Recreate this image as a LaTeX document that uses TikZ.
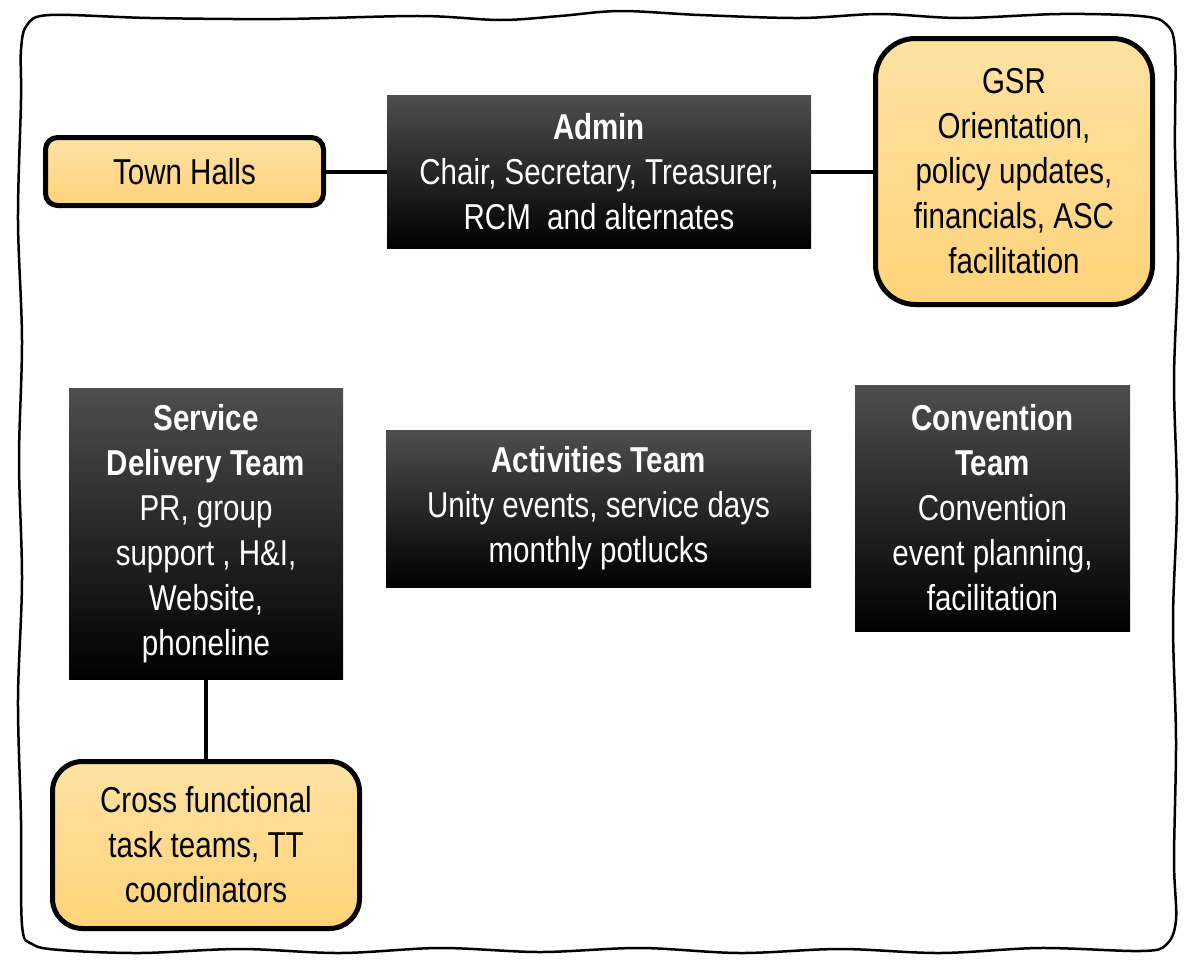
\documentclass[tikz,border=0pt]{standalone}
\usepackage{fontspec}
\setmainfont{Liberation Sans}[FakeStretch=0.82]
\definecolor{paletop}{RGB}{254,226,162}
\definecolor{palebot}{RGB}{255,211,122}
\definecolor{darktop}{RGB}{78,78,78}

\begin{document}
\begin{tikzpicture}[x=1pt,y=-1pt,
    txt/.style={font=\fontsize{36}{45}\selectfont, align=center, inner sep=0pt},
    orangebox/.style={txt, draw=black, line width=5pt, rounded corners=#1,
      top color=paletop, bottom color=palebot},
    blackbox/.style={txt, text=white, top color=darktop, middle color=black,
      bottom color=black},
    link/.style={line width=4pt}]
  \useasboundingbox (0,0) rectangle (1192,959);
  % hand drawn frame
  \draw[line width=2.5pt, line join=round] plot[smooth cycle, tension=0.55] coordinates {
    (50,15) (150,18) (280,19) (420,16) (500,20) (560,16) (620,11) (700,15)
    (800,18) (880,14) (960,18) (1060,14) (1140,16)
    (1166,24) (1175,50)
    (1175,150) (1178,260) (1174,380) (1177,500) (1173,620) (1176,740)
    (1174,860) (1176,920)
    (1166,945) (1140,951)
    (1040,948) (940,953) (840,949) (740,953) (640,948) (540,952) (440,948)
    (340,953) (240,949) (140,953) (60,950)
    (32,944) (22,925)
    (21,820) (18,700) (22,580) (19,460) (22,340) (18,220) (21,100) (21,50)
    (27,25)};

  % top row
  \node[orangebox=12pt, minimum width=278pt, minimum height=68pt]
    (townhalls) at (184.5,171.5) {Town Halls};
  \node[blackbox, minimum width=424pt, minimum height=153pt]
    (admin) at (599,171.5)
    {\textbf{Admin}\\Chair, Secretary, Treasurer,\\RCM\ \ and alternates};
  \node[orangebox=40pt, minimum width=277pt, minimum height=266pt]
    (gsr) at (1014,171.5)
    {GSR\\Orientation,\\policy updates,\\financials, ASC\\facilitation};

  % teams
  \node[blackbox, minimum width=274pt, minimum height=291pt]
    (service) at (206,533.5)
    {\textbf{Service}\\\textbf{Delivery Team}\\PR, group\\support , H\&I,\\Website,\\phoneline};
  \node[blackbox, minimum width=425pt, minimum height=157pt]
    (activities) at (598.5,508.5)
    {\textbf{Activities Team}\\Unity events, service days\\monthly potlucks};
  \node[blackbox, minimum width=275pt, minimum height=246pt]
    (convention) at (992.5,508)
    {\textbf{Convention}\\\textbf{Team}\\Convention\\event planning,\\facilitation};
  \node[orangebox=30pt, minimum width=307pt, minimum height=167pt]
    (crossteams) at (206,845)
    {Cross functional\\task teams, TT\\coordinators};

  \draw[link] (townhalls) -- (admin);
  \draw[link] (admin) -- (gsr);
  \draw[link] (service) -- (crossteams);
\end{tikzpicture}
\end{document}
